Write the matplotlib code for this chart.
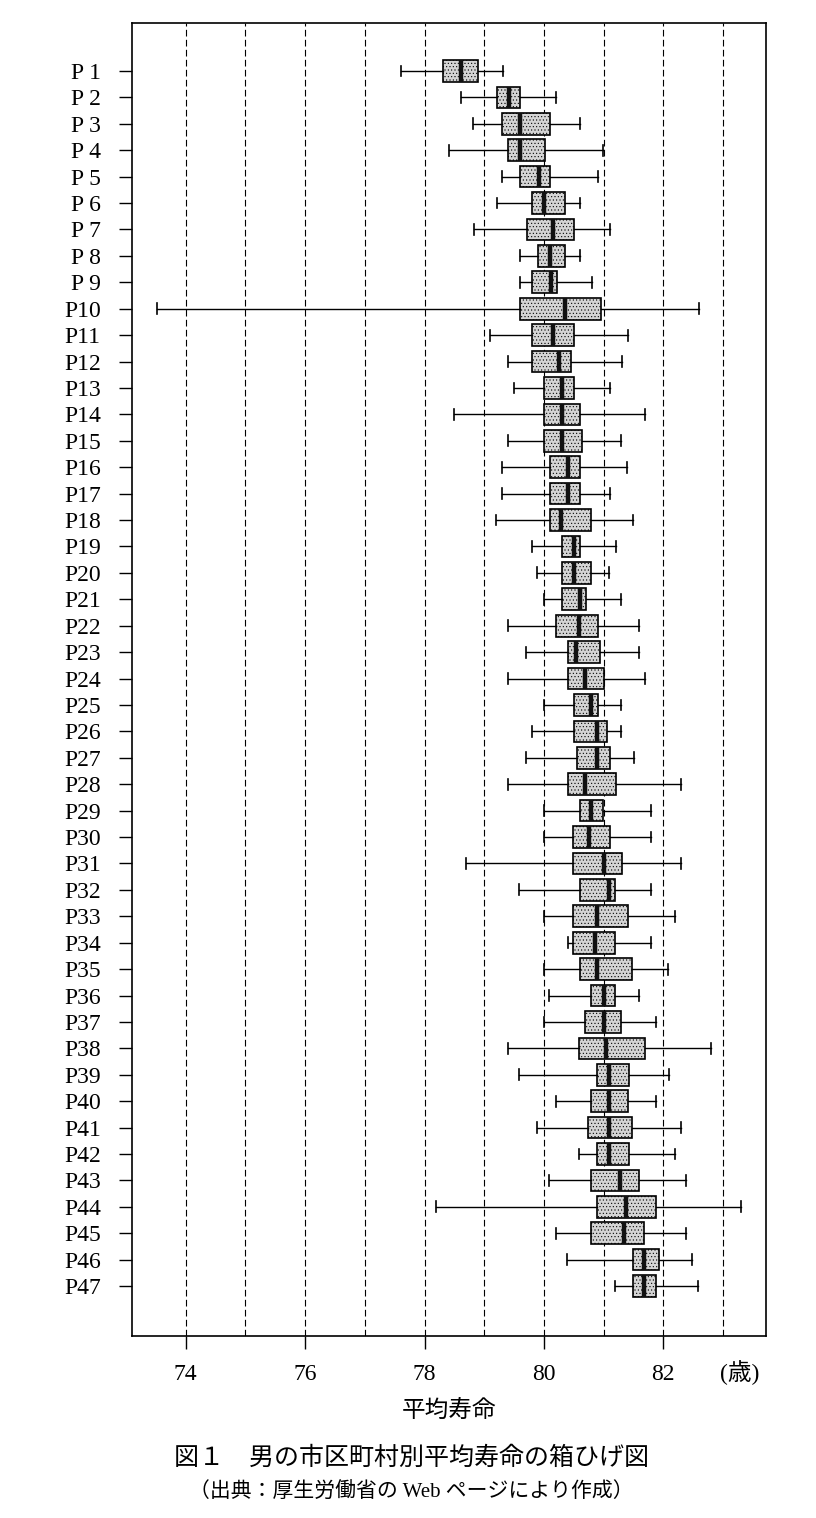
import matplotlib
matplotlib.use("Agg")
import matplotlib.pyplot as plt

plt.rcParams['font.family'] = ['Liberation Serif', 'Noto Sans CJK JP', 'DejaVu Sans']
plt.rcParams['hatch.linewidth'] = 0.4

# 都道府県 P1..P47 (上から順)
labels = [f"P {i}" if i < 10 else f"P{i}" for i in range(1, 48)]

# 市区町村別平均寿命 (男) の五数要約: 下ひげ, 第1四分位, 中央値, 第3四分位, 上ひげ
whislo = [77.60, 78.61, 78.81, 78.41, 79.30, 79.21, 78.82, 79.60, 79.60, 73.52,
          79.10, 79.40, 79.49, 78.50, 79.40, 79.30, 79.30, 79.20, 79.80, 79.89,
          80.00, 79.40, 79.70, 79.40, 80.00, 79.80, 79.70, 79.40, 80.00, 80.00,
          78.70, 79.59, 80.00, 80.40, 80.00, 80.09, 80.00, 79.39, 79.58, 80.20,
          79.89, 80.59, 80.09, 78.19, 80.20, 80.39, 81.19]
q1 = [78.31, 79.21, 79.30, 79.40, 79.60, 79.80, 79.71, 79.90, 79.80, 79.60,
      79.80, 79.80, 80.00, 80.00, 80.00, 80.10, 80.10, 80.10, 80.30, 80.30,
      80.30, 80.20, 80.40, 80.40, 80.50, 80.50, 80.55, 80.40, 80.60, 80.49,
      80.49, 80.60, 80.49, 80.49, 80.60, 80.79, 80.69, 80.59, 80.89, 80.78,
      80.74, 80.89, 80.78, 80.89, 80.78, 81.49, 81.49]
med = [78.61, 79.41, 79.60, 79.60, 79.91, 80.00, 80.15, 80.10, 80.12, 80.35,
       80.15, 80.25, 80.30, 80.30, 80.30, 80.40, 80.40, 80.28, 80.50, 80.50,
       80.60, 80.59, 80.54, 80.69, 80.79, 80.89, 80.89, 80.69, 80.79, 80.75,
       81.00, 81.09, 80.88, 80.85, 80.88, 81.00, 81.00, 81.04, 81.09, 81.09,
       81.09, 81.09, 81.28, 81.38, 81.34, 81.68, 81.68]
q3 = [78.90, 79.60, 80.10, 80.01, 80.10, 80.36, 80.50, 80.36, 80.21, 80.95,
      80.50, 80.45, 80.50, 80.60, 80.64, 80.60, 80.60, 80.79, 80.60, 80.79,
      80.71, 80.90, 80.94, 81.00, 80.90, 81.06, 81.10, 81.20, 80.99, 81.10,
      81.30, 81.19, 81.40, 81.19, 81.48, 81.19, 81.29, 81.69, 81.43, 81.40,
      81.48, 81.43, 81.59, 81.88, 81.68, 81.93, 81.88]
whishi = [79.31, 80.20, 80.61, 80.99, 80.90, 80.61, 81.10, 80.61, 80.80, 82.60,
          81.41, 81.30, 81.10, 81.70, 81.29, 81.39, 81.10, 81.49, 81.20, 81.09,
          81.29, 81.59, 81.59, 81.70, 81.29, 81.29, 81.50, 82.30, 81.79, 81.79,
          82.30, 81.79, 82.19, 81.79, 82.08, 81.59, 81.88, 82.79, 82.09, 81.88,
          82.29, 82.19, 82.38, 83.30, 82.38, 82.48, 82.58]

stats = []
for i in range(len(labels)):
    stats.append(dict(label=labels[i], whislo=whislo[i], q1=q1[i], med=med[i],
                      q3=q3[i], whishi=whishi[i], fliers=[]))

fig = plt.figure(figsize=(8.16, 15.18), dpi=100)
ax = fig.add_axes([0.1618, 0.1199, 0.7770, 0.8650])

# 縦の破線
for v in range(74, 84):
    ax.axvline(v, color='black', linestyle=(0, (6, 3)), linewidth=0.8, zorder=0)

positions = list(range(1, len(labels) + 1))
bp = ax.bxp(stats, positions=positions, vert=False, widths=0.82, patch_artist=True,
            showfliers=False,
            boxprops=dict(facecolor='#d4d4d4', edgecolor='black', linewidth=1.2, hatch='.....'),
            medianprops=dict(color='#111111', linewidth=3.2),
            whiskerprops=dict(color='black', linewidth=1.0),
            capprops=dict(color='black', linewidth=1.2))

ax.set_xlim(73.10, 83.72)
ax.set_ylim(48.89, -0.82)
ax.set_xticks([74, 76, 78, 80, 82])
ax.tick_params(axis='x', direction='out', length=9.5, width=1.0, labelsize=17, pad=11)
ax.tick_params(axis='y', direction='out', length=9.5, width=1.0, labelsize=17, pad=13)
for s in ax.spines.values():
    s.set_linewidth(1.2)

ax.set_xlabel('平均寿命', fontsize=17, labelpad=10)

fig.text(740 / 816, 1 - 1373 / 1518, '(歳)', ha='center', va='center', fontsize=17)
fig.text(0.504, 1 - 1458 / 1518, '図１　男の市区町村別平均寿命の箱ひげ図', ha='center', va='center', fontsize=18)
fig.text(0.504, 1 - 1493 / 1518, '（出典：厚生労働省の Web ページにより作成）', ha='center', va='center', fontsize=15)

fig.savefig('out.png', dpi=100)
